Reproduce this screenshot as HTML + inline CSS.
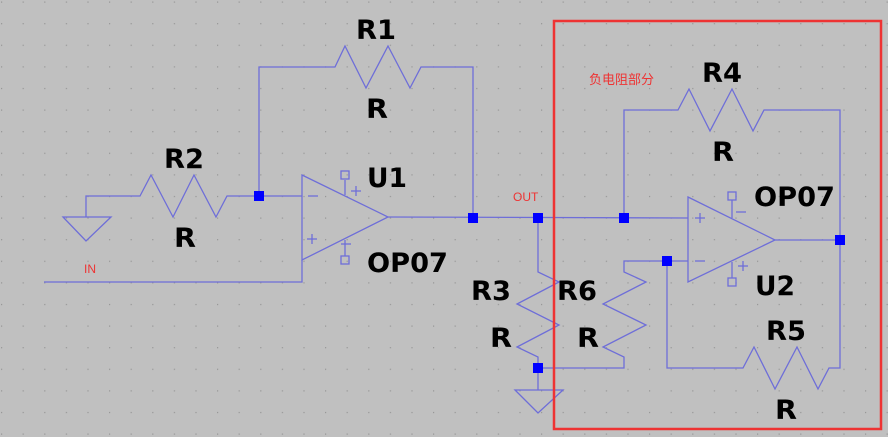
<!DOCTYPE html>
<html><head><meta charset="utf-8"><style>html,body{margin:0;padding:0;background:#c0c0c0}svg{display:block}</style></head>
<body>
<svg width="888" height="437" xmlns="http://www.w3.org/2000/svg">
<defs>
<pattern id="g" x="1" y="1.5" width="21.6" height="21.6" patternUnits="userSpaceOnUse">
<rect x="0" y="0" width="1.2" height="1.2" fill="#959595"/>
</pattern>
</defs>
<rect width="888" height="437" fill="#c0c0c0"/>
<rect width="888" height="437" fill="url(#g)"/>
<g fill="none" stroke="#6e6ed8" stroke-width="1.3">
<polyline points="259,196 259,67 335,67 345,46 366,88 388,46 410,88 421,67 473,67 473,218"/>
<polyline points="86,217 86,196 140,196 151,175 173,217 194,175 216,217 227,196 302,196"/>
<polygon points="63,217 111,217 86,241"/>
<polygon points="302,175 388,217 302,260"/>
<line x1="308" y1="196" x2="318" y2="196"/>
<line x1="307" y1="239" x2="317" y2="239"/><line x1="312" y1="234" x2="312" y2="244"/>
<line x1="345" y1="180" x2="345" y2="195"/><rect x="341" y="171" width="8" height="8"/>
<line x1="351" y1="191" x2="361" y2="191"/><line x1="356" y1="186" x2="356" y2="196"/>
<line x1="345" y1="240" x2="345" y2="256"/><rect x="341" y="256" width="8" height="8"/>
<line x1="341" y1="244" x2="351" y2="244"/>
<polyline points="44,282 302,282 302,260"/>
<line x1="388" y1="217" x2="688" y2="218"/>
<polygon points="688,197 775,240 688,282"/>
<line x1="695" y1="218" x2="705" y2="218"/><line x1="700" y1="213" x2="700" y2="223"/>
<line x1="695" y1="261" x2="705" y2="261"/>
<line x1="732" y1="200" x2="732" y2="218"/><rect x="728" y="192" width="8" height="8"/>
<line x1="736" y1="212" x2="746" y2="212"/>
<line x1="732" y1="262" x2="732" y2="278"/><rect x="728" y="278" width="8" height="8"/>
<line x1="738" y1="266" x2="748" y2="266"/><line x1="743" y1="261" x2="743" y2="271"/>
<line x1="775" y1="240" x2="840" y2="240"/>
<polyline points="624,218 624,110 678,110 689,89 710,131 732,89 753,131 764,110 840,110 840,368 829,368 818,389 797,347 775,389 754,347 743,368 667,368 667,261 688,261"/>
<polyline points="538,218 538,272 559,282 517,304 559,325 517,347 538,357 538,390"/>
<polygon points="515,390 563,390 538,413"/>
<polyline points="538,368 624,368 624,357 603,347 646,325 603,304 646,282 624,272 624,261 667,261"/>
</g>
<g fill="#0000ff">
<rect x="254" y="191" width="10" height="10"/>
<rect x="468" y="213" width="10" height="10"/>
<rect x="533" y="213" width="10" height="10"/>
<rect x="619" y="213" width="10" height="10"/>
<rect x="662" y="256" width="10" height="10"/>
<rect x="835" y="235" width="10" height="10"/>
<rect x="533" y="363" width="10" height="10"/>
</g>
<rect x="554" y="21" width="327" height="408" fill="none" stroke="#ee3333" stroke-width="2.5"/>
<g font-family="DejaVu Sans, Liberation Sans, sans-serif" font-weight="bold" font-size="27" fill="#000">
<text x="356" y="39" textLength="40" lengthAdjust="spacingAndGlyphs">R1</text>
<text x="366" y="118" textLength="22" lengthAdjust="spacingAndGlyphs">R</text>
<text x="164" y="168" textLength="40" lengthAdjust="spacingAndGlyphs">R2</text>
<text x="174" y="247" textLength="22" lengthAdjust="spacingAndGlyphs">R</text>
<text x="367" y="187" textLength="40" lengthAdjust="spacingAndGlyphs">U1</text>
<text x="367" y="272" textLength="81" lengthAdjust="spacingAndGlyphs">OP07</text>
<text x="702" y="82" textLength="40" lengthAdjust="spacingAndGlyphs">R4</text>
<text x="712" y="161" textLength="22" lengthAdjust="spacingAndGlyphs">R</text>
<text x="754" y="206" textLength="81" lengthAdjust="spacingAndGlyphs">OP07</text>
<text x="755" y="295" textLength="40" lengthAdjust="spacingAndGlyphs">U2</text>
<text x="766" y="340" textLength="40" lengthAdjust="spacingAndGlyphs">R5</text>
<text x="775" y="419" textLength="22" lengthAdjust="spacingAndGlyphs">R</text>
<text x="471" y="300" textLength="40" lengthAdjust="spacingAndGlyphs">R3</text>
<text x="557" y="300" textLength="40" lengthAdjust="spacingAndGlyphs">R6</text>
<text x="490" y="347" textLength="22" lengthAdjust="spacingAndGlyphs">R</text>
<text x="577" y="347" textLength="22" lengthAdjust="spacingAndGlyphs">R</text>
</g>
<g font-family="Liberation Sans, 'Noto Sans CJK SC', sans-serif" font-size="12" fill="#ee3333">
<text x="513" y="201">OUT</text>
<text x="84" y="273">IN</text>
<text x="589" y="84" font-size="13">负电阻部分</text>
</g>
</svg>
</body></html>
